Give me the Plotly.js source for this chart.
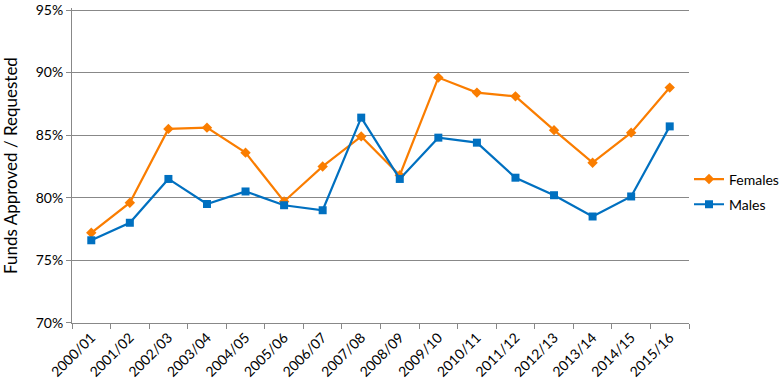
<!DOCTYPE html>
<html>
<head>
<meta charset="utf-8">
<script src="https://cdn.plot.ly/plotly-3.0.1.min.js"></script>
<style>html,body{margin:0;padding:0;background:#fff;}#chart{width:783px;height:384px;}</style>
</head>
<body>
<div id="chart"></div>
<script>
const years = ["2000/01","2001/02","2002/03","2003/04","2004/05","2005/06","2006/07","2007/08","2008/09","2009/10","2010/11","2011/12","2012/13","2013/14","2014/15","2015/16"];
const females = [0.772,0.796,0.855,0.856,0.836,0.797,0.825,0.849,0.818,0.896,0.884,0.881,0.854,0.828,0.852,0.888];
const males = [0.766,0.780,0.815,0.795,0.805,0.794,0.790,0.864,0.815,0.848,0.844,0.816,0.802,0.785,0.801,0.857];
const yTicks = [0.70,0.75,0.80,0.85,0.90,0.95];

const font = "Lato, Open Sans, sans-serif";
const traces = [
  {x: years, y: females, name: "Females", type: "scatter", mode: "lines+markers", legendgroup: "f",
   line: {color: "#FA7D00", width: 2.2}, marker: {symbol: "diamond", size: 8, color: "#FA7D00"}},
  {x: years, y: males, name: "Males", type: "scatter", mode: "lines+markers", legendgroup: "m",
   line: {color: "#0070C0", width: 2.2}, marker: {symbol: "square", size: 8, color: "#0070C0"}}
];
const layout = {
  width: 783, height: 384,
  margin: {l: 72, r: 94, t: 8, b: 61, autoexpand: false},
  paper_bgcolor: "#fff", plot_bgcolor: "#fff",
  font: {family: font, size: 13, color: "#000"},
  showlegend: true,
  legend: {x: 1.0, y: 0.416, xanchor: "left", yanchor: "middle", font: {size: 14, family: font},
           tracegroupgap: 4, itemwidth: 30},
  xaxis: {type: "category", tickson: "boundaries", tickangle: -45, ticks: "outside", ticklen: 5,
          tickcolor: "#888", showline: true, linecolor: "#888", linewidth: 1, showgrid: false,
          tickfont: {size: 14, family: font}, range: [-0.5, 15.5], fixedrange: true, automargin: false},
  yaxis: {range: [0.6999, 0.9516], tickvals: yTicks, tickformat: ".0%", ticks: "outside", ticklen: 5,
          tickcolor: "#888", showline: true, linecolor: "#888", showgrid: true, gridcolor: "#888",
          gridwidth: 1, zeroline: false, tickfont: {size: 14, family: font}, automargin: false,
          title: {text: "Funds Approved / Requested", font: {size: 17, family: font}, standoff: 14}}
};
Plotly.newPlot("chart", traces, layout, {displayModeBar: false, staticPlot: true});
</script>
</body>
</html>
